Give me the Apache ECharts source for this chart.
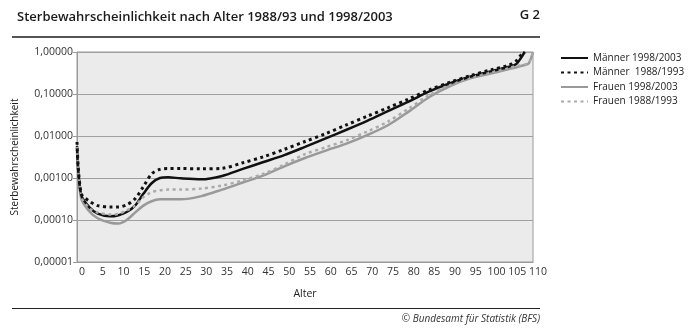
<!DOCTYPE html>
<html>
<head>
<meta charset="utf-8">
<script src="https://cdn.jsdelivr.net/npm/echarts@6/dist/echarts.min.js"></script>
<style>
  html, body { margin: 0; padding: 0; background: #ffffff; }
  #chart { width: 691px; height: 330px; }
</style>
</head>
<body>
<div id="chart"></div>
<script>
// Alter (Jahre)
const ages = [0, 1, 3, 5, 8, 10, 12, 14, 16, 18, 20, 22, 25, 30, 35, 40, 45, 50, 55, 60,
              65, 70, 75, 80, 85, 90, 95, 100, 104, 106, 107, 108, 109, 110];

// Sterbewahrscheinlichkeit je Alter
const maenner2003 = [0.0058, 0.0004, 0.0002, 0.000142, 0.000122, 0.00013, 0.000155, 0.00022, 0.00042, 0.00075,
                     0.00100, 0.00104, 0.00098, 0.00093, 0.00112, 0.00165, 0.0024, 0.0035, 0.0055, 0.0088,
                     0.0141, 0.023, 0.039, 0.066, 0.115, 0.18, 0.26, 0.35, 0.44, 0.52, 0.7, 1.0, null, null];
const maenner1993 = [0.0072, 0.00043, 0.00028, 0.00022, 0.000204, 0.000204, 0.00023, 0.00032, 0.00062, 0.00125,
                     0.00160, 0.00168, 0.00168, 0.00165, 0.0017, 0.0023, 0.0032, 0.0048, 0.0074, 0.0114,
                     0.0184, 0.0295, 0.047, 0.076, 0.126, 0.19, 0.275, 0.38, 0.48, 0.62, 0.82, 1.0, null, null];
const frauen2003  = [0.0046, 0.00033, 0.00016, 0.00011, 0.000086, 0.000082, 0.0001, 0.00015, 0.00022, 0.00028,
                     0.00031, 0.00031, 0.00031, 0.00037, 0.00053, 0.00078, 0.00115, 0.0019, 0.003, 0.0045,
                     0.0066, 0.0105, 0.018, 0.038, 0.085, 0.155, 0.24, 0.31, 0.39, 0.43, 0.46, 0.49, 0.54, 1.0];
const frauen1993  = [0.0055, 0.00037, 0.00019, 0.00015, 0.000135, 0.00014, 0.00017, 0.00022, 0.00035, 0.00046,
                     0.00051, 0.00053, 0.00053, 0.00056, 0.00066, 0.00088, 0.00126, 0.0021, 0.0037, 0.0054,
                     0.0079, 0.0128, 0.022, 0.045, 0.095, 0.165, 0.25, 0.33, 0.42, 0.46, 0.48, 0.5, 0.55, 1.0];

const seriesNames = ['Männer 1998/2003', 'Männer  1988/1993', 'Frauen 1998/2003', 'Frauen 1988/1993'];
const xTicks = [0, 110, 5];           // min, max, step of the age axis
const yTicks = [0.00001, 1];          // range of the probability axis

const pairs = vals => ages.map((a, i) => [a, vals[i]]);
const FONT = '"Open Sans", "DejaVu Sans", sans-serif';

const chart = echarts.init(document.getElementById('chart'), null, { renderer: 'canvas' });

function lineSeries(name, vals, color, width, dashed) {
  return {
    name: name,
    type: 'line',
    data: pairs(vals),
    symbol: 'none',
    showSymbol: false,
    smooth: 0.3,
    connectNulls: false,
    lineStyle: {
      color: color,
      width: width,
      type: dashed ? [3, 3.5] : 'solid',
      cap: 'butt'
    },
    itemStyle: { color: color },
    z: dashed ? 3 : 2
  };
}

chart.setOption({
  animation: false,
  textStyle: { fontFamily: FONT },
  title: {
    text: 'Sterbewahrscheinlichkeit nach Alter 1988/93 und 1998/2003',
    left: 12, top: 6,
    textStyle: { fontFamily: FONT, fontSize: 13, fontWeight: 600, color: '#1a1a1a' }
  },
  graphic: [
    { type: 'text', right: 691 - 540, top: 9,
      style: { text: 'G 2', font: '600 13px ' + FONT, fill: '#1a1a1a' } },
    { type: 'rect', left: 12, top: 36, shape: { width: 528, height: 2 },
      style: { fill: '#555555' } },
    { type: 'rect', left: 12, top: 308, shape: { width: 528, height: 1 },
      style: { fill: '#222222' } },
    { type: 'text', right: 691 - 540, top: 314,
      style: { text: '© Bundesamt für Statistik (BFS)', font: 'italic 10px ' + FONT, fill: '#333333' } }
  ],
  legend: {
    orient: 'vertical',
    left: 555, top: 48,
    itemWidth: 27, itemHeight: 10, itemGap: 4.5,
    data: seriesNames,
    itemStyle: { opacity: 0 },
    textStyle: { fontFamily: FONT, fontSize: 10, color: '#222' }
  },
  grid: {
    left: 77, right: 158, top: 52, bottom: 68,
    show: true, backgroundColor: '#ebebeb', borderColor: '#9a9a9a', borderWidth: 1
  },
  xAxis: {
    type: 'value',
    min: xTicks[0], max: xTicks[1], interval: xTicks[2],
    name: 'Alter', nameLocation: 'middle', nameGap: 27,
    nameTextStyle: { fontFamily: FONT, fontSize: 10.5, color: '#222' },
    axisLine: { show: true, lineStyle: { color: '#9a9a9a', width: 1 } },
    axisTick: { show: false },
    splitLine: { show: false },
    axisLabel: { fontFamily: FONT, fontSize: 10.5, color: '#333', margin: 5, padding: [0, 0, 0, 10] }
  },
  yAxis: {
    type: 'log', logBase: 10,
    min: yTicks[0], max: yTicks[1],
    name: 'Sterbewahrscheinlichkeit', nameLocation: 'middle', nameGap: 57, nameRotate: 90,
    nameTextStyle: { fontFamily: FONT, fontSize: 10, color: '#222' },
    axisLine: { show: true, lineStyle: { color: '#9a9a9a', width: 1 } },
    axisTick: { show: true, length: 4, lineStyle: { color: '#9a9a9a' } },
    splitLine: { show: true, lineStyle: { color: '#a0a0a0', width: 1 } },
    axisLabel: {
      fontFamily: FONT, fontSize: 10.5, color: '#333', margin: 4,
      formatter: v => Number(v).toFixed(5).replace('.', ',')
    }
  },
  series: [
    lineSeries(seriesNames[2], frauen2003, '#999999', 2.5, false),
    lineSeries(seriesNames[3], frauen1993, '#aaaaaa', 2.5, true),
    lineSeries(seriesNames[0], maenner2003, '#111111', 2.5, false),
    lineSeries(seriesNames[1], maenner1993, '#111111', 3, true)
  ]
});
</script>
</body>
</html>
